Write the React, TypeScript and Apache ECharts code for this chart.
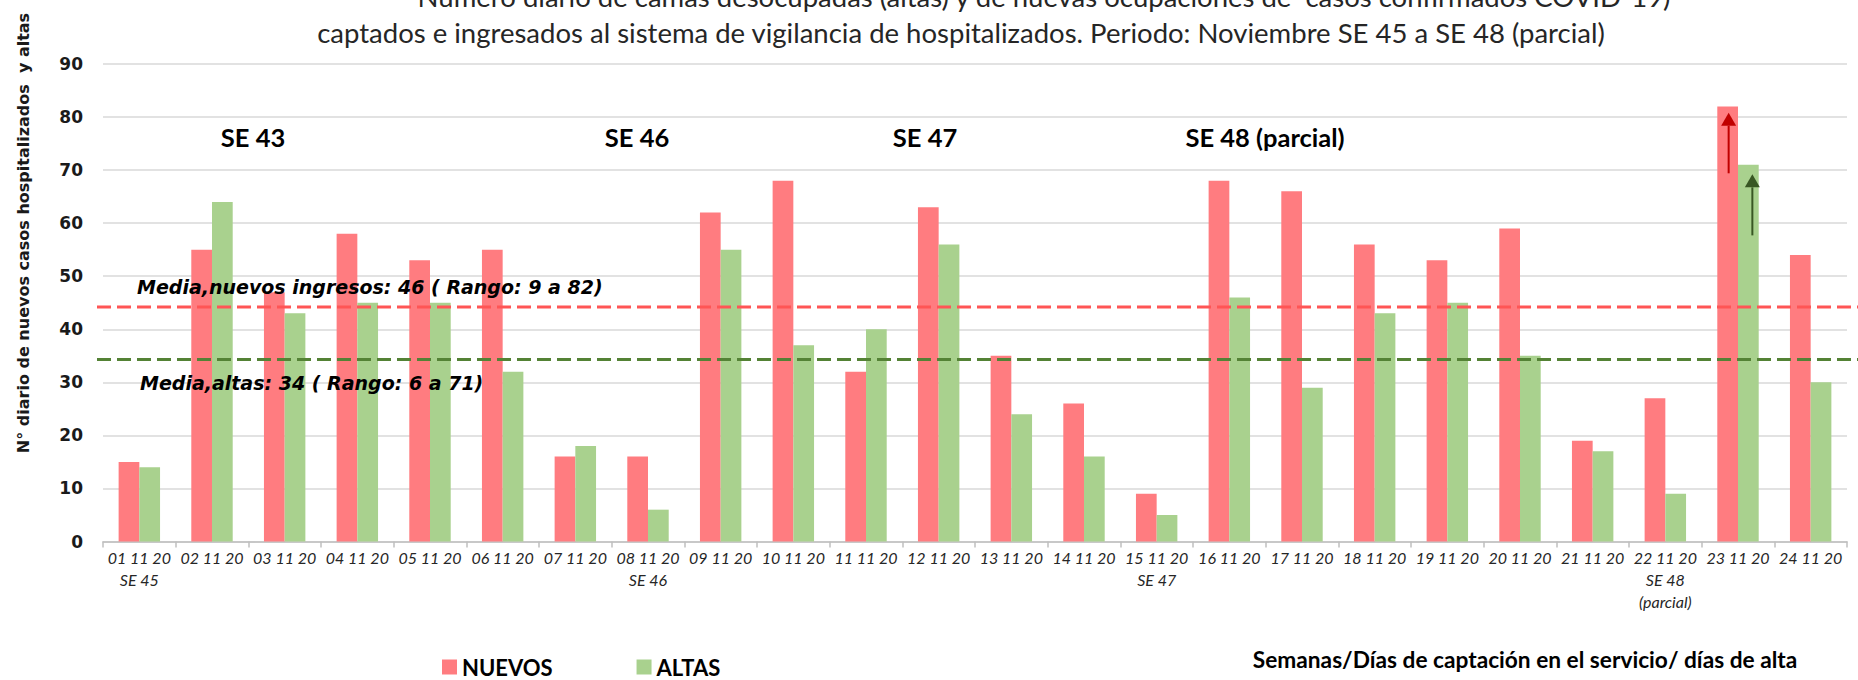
import React, { useEffect, useRef } from "react";
import * as echarts from "echarts";

const CATEGORIES = [
  "01 11 20", "02 11 20", "03 11 20", "04 11 20", "05 11 20", "06 11 20",
  "07 11 20", "08 11 20", "09 11 20", "10 11 20", "11 11 20", "12 11 20",
  "13 11 20", "14 11 20", "15 11 20", "16 11 20", "17 11 20", "18 11 20",
  "19 11 20", "20 11 20", "21 11 20", "22 11 20", "23 11 20", "24 11 20",
];
const WEEK_LABELS = [
  "SE 45", "", "", "", "", "", "", "SE 46", "", "", "", "", "", "",
  "SE 47", "", "", "", "", "", "", "SE 48\n(parcial)", "", "",
];
const NUEVOS = [15, 55, 47, 58, 53, 55, 16, 16, 62, 68, 32, 63, 35, 26, 9, 68, 66, 56, 53, 59, 19, 27, 82, 54];
const ALTAS = [14, 64, 43, 45, 45, 32, 18, 6, 55, 37, 40, 56, 24, 16, 5, 46, 29, 43, 45, 35, 17, 9, 71, 30];
const MEDIA_LINES = [44.2, 34.3];
const ARROW_NUEVOS = [69.4, 80.8];
const ARROW_ALTAS = [57.7, 69.2];
const ARROW_INDEX = 22;
const Y_MIN = 0;
const Y_MAX = 90;
const Y_INTERVAL = 10;
const SE_TITLES = ["SE 43", "SE 46", "SE 47", "SE 48 (parcial)"];
const TITLE_1 = "Número diario de camas desocupadas (altas) y de nuevas ocupaciones de  casos confirmados COVID-19)";
const TITLE_2 = "captados e ingresados al sistema de vigilancia de hospitalizados. Periodo: Noviembre SE 45 a SE 48 (parcial)";
const Y_NAME = "N° diario de nuevos casos hospitalizados  y altas";
const X_NAME = "Semanas/Días de captación en el servicio/ días de alta";
const NOTE_NUEVOS = "Media,nuevos ingresos: 46 ( Rango: 9 a 82)";
const NOTE_ALTAS = "Media,altas: 34 ( Rango: 6 a 71)";

const RED = "#FF7C80";
const GREEN = "#A9D18E";
const FC = "Lato";
const FD = "DejaVu Sans";
const GAP = 0.43;

export default function App() {
  const ref = useRef<HTMLDivElement>(null);
  useEffect(() => {
    document.body.style.margin = "0";
    const chart = echarts.init(ref.current!, null, { renderer: "svg" });
    chart.setOption({
      animation: false,
      grid: { left: 103, right: 11, top: 64, bottom: 138.5 },
      legend: {
        left: 442,
        top: 656,
        padding: 0,
        icon: "rect",
        itemWidth: 15,
        itemHeight: 15,
        itemGap: 84,
        textStyle: { fontFamily: FC, fontWeight: "bold", fontSize: 22, color: "#000", lineHeight: 22 },
        data: ["NUEVOS", "ALTAS"],
      },
      xAxis: {
        type: "category",
        data: CATEGORIES,
        axisLine: { lineStyle: { color: "#BFBFBF", width: 1.5 } },
        axisTick: { show: true, length: 6, lineStyle: { color: "#BFBFBF", width: 1.5 } },
        axisLabel: {
          interval: 0,
          margin: 5,
          fontFamily: FC,
          fontStyle: "italic",
          fontSize: 16,
          lineHeight: 22,
          color: "#262626",
          formatter: (v: string, i: number) => (WEEK_LABELS[i] ? v + "\n" + WEEK_LABELS[i] : v),
        },
      },
      yAxis: {
        type: "value",
        min: Y_MIN,
        max: Y_MAX,
        interval: Y_INTERVAL,
        axisLine: { show: false },
        axisTick: { show: false },
        splitLine: { lineStyle: { color: "#D9D9D9", width: 1.5 } },
        axisLabel: { margin: 20, fontFamily: FD, fontWeight: "bold", fontSize: 17, color: "#1a1a1a" },
      },
      series: [
        { name: "NUEVOS", type: "bar", data: NUEVOS, barGap: "0%", barCategoryGap: GAP * 100 + "%", itemStyle: { color: RED } },
        { name: "ALTAS", type: "bar", data: ALTAS, barGap: "0%", barCategoryGap: GAP * 100 + "%", itemStyle: { color: GREEN } },
      ],
    });

    const yPix = (v: number) => chart.convertToPixel({ yAxisIndex: 0 }, v) as number;
    const xPix = (i: number) => chart.convertToPixel({ xAxisIndex: 0 }, CATEGORIES[i]) as number;
    const band = xPix(1) - xPix(0);
    const bw = (band * (1 - GAP)) / 2;
    const xc = xPix(ARROW_INDEX);

    const arrow = (x: number, from: number, to: number, color: string) => {
      const tip = yPix(to);
      const base = tip + 13;
      return [
        { type: "line", z: 20, shape: { x1: x, y1: yPix(from), x2: x, y2: base }, style: { stroke: color, lineWidth: 2 } },
        { type: "polygon", z: 20, shape: { points: [[x, tip], [x - 7.5, base], [x + 7.5, base]] }, style: { fill: color } },
      ];
    };

    const noteStyle = { fontFamily: FD, fontWeight: "bold", fontStyle: "italic", fontSize: 19, fill: "#000", textVerticalAlign: "middle" };
    const seX = [253, 637, 925, 1265];
    const graphics: any[] = [
      {
        type: "text", x: 1044, y: -4,
        style: { text: TITLE_1, fontFamily: FC, fontSize: 27.5, fill: "#262626", textAlign: "center", textVerticalAlign: "middle" },
      },
      {
        type: "text", x: 961, y: 32,
        style: { text: TITLE_2, fontFamily: FC, fontSize: 27.5, fill: "#262626", textAlign: "center", textVerticalAlign: "middle" },
      },
      {
        type: "text", x: 23, y: 233, rotation: Math.PI / 2,
        style: { text: Y_NAME, fontFamily: FD, fontWeight: "bold", fontSize: 16, fill: "#1a1a1a", textAlign: "center", textVerticalAlign: "middle" },
      },
      {
        type: "text", x: 1525, y: 659,
        style: { text: X_NAME, fontFamily: FC, fontWeight: "bold", fontSize: 22.7, fill: "#000", textAlign: "center", textVerticalAlign: "middle" },
      },
      ...SE_TITLES.map((t, i) => ({
        type: "text", x: seX[i], y: 137,
        style: { text: t, fontFamily: FC, fontWeight: "bold", fontSize: 25.5, fill: "#000", textAlign: "center", textVerticalAlign: "middle" },
      })),
      {
        type: "line", z: 15,
        shape: { x1: 97, y1: yPix(MEDIA_LINES[0]), x2: 1858, y2: yPix(MEDIA_LINES[0]) },
        style: { stroke: "#FF5555", lineWidth: 3, lineDash: [14, 6] },
      },
      {
        type: "line", z: 15,
        shape: { x1: 97, y1: yPix(MEDIA_LINES[1]), x2: 1858, y2: yPix(MEDIA_LINES[1]) },
        style: { stroke: "#548235", lineWidth: 3, lineDash: [14, 6] },
      },
      { type: "text", x: 137, y: 287, z: 16, style: { text: NOTE_NUEVOS, ...noteStyle } },
      { type: "text", x: 140, y: 383, z: 16, style: { text: NOTE_ALTAS, ...noteStyle } },
      ...arrow(xc - bw / 2 + 1, ARROW_NUEVOS[0], ARROW_NUEVOS[1], "#C00000"),
      ...arrow(xc + bw / 2 + 4, ARROW_ALTAS[0], ARROW_ALTAS[1], "#385723"),
    ];
    chart.setOption({ graphic: graphics });
    return () => chart.dispose();
  }, []);
  return <div ref={ref} style={{ width: 1858, height: 680 }} />;
}
